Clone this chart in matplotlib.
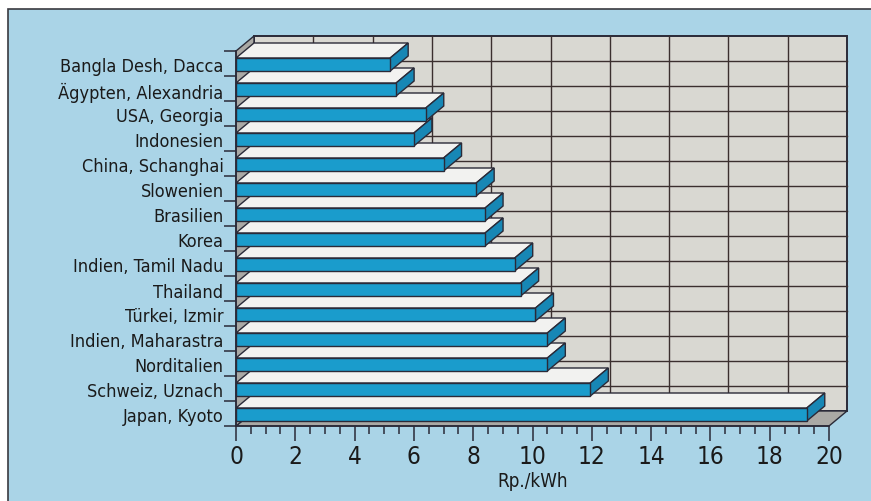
import matplotlib
matplotlib.use("Agg")
import matplotlib.pyplot as plt
from matplotlib.patches import Polygon, Rectangle

plt.rcParams['font.family'] = ['Liberation Sans Narrow', 'DejaVu Sans Condensed', 'DejaVu Sans']
plt.rcParams['font.stretch'] = 'condensed'

# data, top to bottom as in the picture
categories = ["Bangla Desh, Dacca", "Ägypten, Alexandria", "USA, Georgia", "Indonesien",
              "China, Schanghai", "Slowenien", "Brasilien", "Korea", "Indien, Tamil Nadu",
              "Thailand", "Türkei, Izmir", "Indien, Maharastra", "Norditalien",
              "Schweiz, Uznach", "Japan, Kyoto"]
values = [5.2, 5.4, 6.4, 6.0, 7.0, 8.1, 8.4, 8.4, 9.4, 9.6, 10.1, 10.5, 10.5, 11.95, 19.25]
x_ticks = [0, 2, 4, 6, 8, 10, 12, 14, 16, 18, 20]
x_label = "Rp./kWh"

bg_blue = "#aad4e7"
wall = "#d9d8d2"
floor_col = "#aaa9a5"
edge = "#2a2a38"
front_col = "#1a9ccc"
side_col = "#1787b5"
top_col = "#f2f2f0"

fig = plt.figure(figsize=(8.71, 5.02), dpi=100)
fig.patch.set_facecolor("white")
fig.patches.append(Rectangle((8 / 871, -0.01), 1.0, 1 - 10 / 502 + 0.01, transform=fig.transFigure,
                             facecolor=bg_blue, edgecolor="#3a3a40", lw=1.2, zorder=-10))

ax = fig.add_axes([236 / 871, 75 / 502, 593 / 871, 375 / 502])
ax.set_facecolor("none")
n = len(categories)
ax.set_xlim(0, 20)
ax.set_ylim(0, n)

dx = 18 / 29.65   # depth offset in value units
dy = 15 / 25.0    # depth offset in category units

def poly(pts, fc, z, lw=1.0, ec=edge):
    ax.add_patch(Polygon(pts, closed=True, facecolor=fc, edgecolor=ec, lw=lw,
                         zorder=z, clip_on=False))

# walls
poly([(dx, dy), (20 + dx, dy), (20 + dx, n + dy), (dx, n + dy)], wall, 1, lw=1.4)
poly([(0, 0), (20, 0), (20 + dx, dy), (dx, dy)], floor_col, 2)
poly([(0, 0), (dx, dy), (dx, n + dy), (0, n)], floor_col, 2)
for xv in x_ticks[1:-1]:
    ax.plot([xv + dx, xv + dx], [dy, n + dy], color="#3b2f2f", lw=1.0, zorder=1.5, clip_on=False)
for c in range(1, n):
    ax.plot([dx, 20 + dx], [c + dy, c + dy], color="#3b2f2f", lw=1.0, zorder=1.5, clip_on=False)

# bars, bottom first so the upper ones overlap
y0, y1 = 0.2, 0.72
for i, (lab, v) in enumerate(zip(categories, values)):
    c = n - 1 - i
    z = 3 + c * 0.1
    poly([(0, c + y1), (v, c + y1), (v + dx, c + y1 + dy), (dx, c + y1 + dy)], top_col, z)
    poly([(v, c + y0), (v + dx, c + y0 + dy), (v + dx, c + y1 + dy), (v, c + y1)], side_col, z)
    poly([(0, c + y0), (v, c + y0), (v, c + y1), (0, c + y1)], front_col, z)

for s in ["top", "right"]:
    ax.spines[s].set_visible(False)
for s in ["left", "bottom"]:
    ax.spines[s].set_color(edge)
    ax.spines[s].set_linewidth(1.2)
    ax.spines[s].set_zorder(10)

ax.set_xticks(x_ticks)
ax.set_xticklabels([str(t) for t in x_ticks], fontsize=17.5, color="#1a1a1a")
ax.set_xticks([t / 2 for t in range(41)], minor=True)
ax.tick_params(axis="x", which="major", length=11, width=1.1, color=edge, pad=2)
ax.tick_params(axis="x", which="minor", length=6, width=1.1, color=edge)

ax.set_yticks(range(n + 1))
ax.set_yticklabels([])
ax.tick_params(axis="y", which="major", length=9, width=1.1, color=edge)
ax.set_yticks([n - 1 - i + 0.46 for i in range(n)], minor=True)
ax.set_yticklabels(categories, minor=True, fontsize=13, color="#1a1a1a")
ax.tick_params(axis="y", which="minor", length=0, pad=9)

ax.set_xlabel(x_label, fontsize=13.5, color="#1a1a1a", labelpad=2)

fig.savefig("out.png", dpi=100)
